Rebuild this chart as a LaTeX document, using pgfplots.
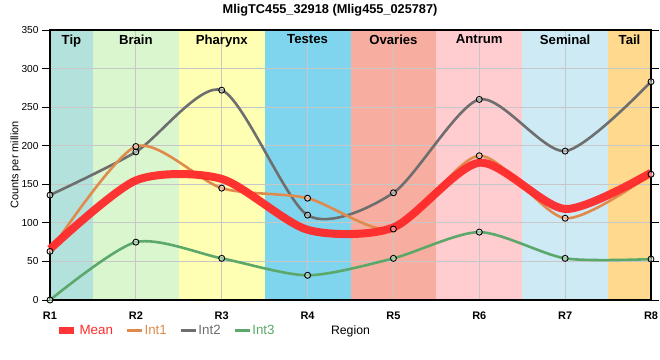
\documentclass[border=0pt]{standalone}
\usepackage{fontspec}
\setmainfont{Liberation Sans}
\usepackage{pgfplots}
\pgfplotsset{compat=1.18}
\definecolor{cTip}{HTML}{B3E2DD}
\definecolor{cBrain}{HTML}{D9F6CF}
\definecolor{cPharynx}{HTML}{FFFFB3}
\definecolor{cTestes}{HTML}{80D5EE}
\definecolor{cOvaries}{HTML}{F7AEA0}
\definecolor{cAntrum}{HTML}{FFCDD0}
\definecolor{cSeminal}{HTML}{CDEAF5}
\definecolor{cTail}{HTML}{FED98E}
\definecolor{cMean}{HTML}{FF2A2A}
\definecolor{cInt1}{HTML}{E08A4B}
\definecolor{cInt2}{HTML}{6E6E6E}
\definecolor{cInt3}{HTML}{5BA86A}
\tikzset{bandlab/.style={font=\bfseries\fontsize{13.2}{15}\selectfont, anchor=north, yshift=-1bp}}
\begin{document}
\begin{tikzpicture}
\begin{axis}[
  set layers,
  at={(0,0)}, anchor=south west,
  scale only axis, width=601bp, height=270bp,
  xmin=0, xmax=7, ymin=0, ymax=350,
  clip=false,
  xtick={0,1,2,3,4,5,6,7},
  xticklabels={R1,R2,R3,R4,R5,R6,R7,R8},
  xticklabel style={font=\bfseries\fontsize{11}{13}\selectfont},
  ytick={0,50,...,350},
  yticklabel style={font=\fontsize{10.2}{12}\selectfont},
  /pgf/number format/assume math mode=true,
  grid=major,
  major grid style={draw=black!22, line width=0.8bp},
  axis line style={line width=2bp, black},
  xtick style={draw=none},
  ytick style={black, line width=0.8bp},
  tick align=outside,
  major tick length=8bp,
  every axis title shift=0pt,
  title={MligTC455\_32918 (Mlig455\_025787)},
  title style={font=\bfseries\fontsize{12.8}{15}\selectfont, at={(axis description cs:0.466,1.074)}, anchor=center, yshift=0pt},
  xlabel={Region},
  xlabel style={font=\fontsize{12.3}{14}\selectfont, at={(axis description cs:0.5,-0.115)}, anchor=center},
  ylabel={Counts per million},
  ylabel style={font=\fontsize{11}{13}\selectfont, at={(axis description cs:-0.0574,0.5)}, anchor=center},
  legend columns=4,
  reverse legend,
  legend style={draw=none, fill=none, inner sep=0pt, outer sep=0pt,
    at={(axis description cs:0.0095,-0.1137)}, anchor=west,
    font=\fontsize{13.4}{15}\selectfont,
    nodes={inner sep=1.5bp},
    /tikz/every even column/.append style={column sep=11bp}},
]
% background bands
\addplot[on layer=axis background, draw=none, fill=cTip, forget plot] coordinates {(0,350)(0.5,350)} \closedcycle;
\addplot[on layer=axis background, draw=none, fill=cBrain, forget plot] coordinates {(0.5,350)(1.5,350)} \closedcycle;
\addplot[on layer=axis background, draw=none, fill=cPharynx, forget plot] coordinates {(1.5,350)(2.5,350)} \closedcycle;
\addplot[on layer=axis background, draw=none, fill=cTestes, forget plot] coordinates {(2.5,350)(3.5,350)} \closedcycle;
\addplot[on layer=axis background, draw=none, fill=cOvaries, forget plot] coordinates {(3.5,350)(4.5,350)} \closedcycle;
\addplot[on layer=axis background, draw=none, fill=cAntrum, forget plot] coordinates {(4.5,350)(5.5,350)} \closedcycle;
\addplot[on layer=axis background, draw=none, fill=cSeminal, forget plot] coordinates {(5.5,350)(6.5,350)} \closedcycle;
\addplot[on layer=axis background, draw=none, fill=cTail, forget plot] coordinates {(6.5,350)(7,350)} \closedcycle;
% band labels
\node[bandlab] at (axis cs:0.25,350) {Tip};
\node[bandlab] at (axis cs:1,350) {Brain};
\node[bandlab] at (axis cs:2,350) {Pharynx};
\node[bandlab] at (axis cs:3,350) {Testes};
\node[bandlab] at (axis cs:4,350) {Ovaries};
\node[bandlab] at (axis cs:5,350) {Antrum};
\node[bandlab] at (axis cs:6,350) {Seminal};
\node[bandlab] at (axis cs:6.75,350) {Tail};
% series
\addplot[cInt3, line width=2.6bp, smooth, tension=0.45, mark=*, mark size=3bp,
  mark options={draw=black, fill=white, fill opacity=0.4, line width=0.9bp},
  legend image code/.code={\path[draw=cInt3, line width=2.6bp] (0bp,0bp) -- (15bp,0bp);}]
  coordinates {(0,0)(1,75)(2,54)(3,32)(4,54)(5,88)(6,54)(7,53)};
\addlegendentry{\textcolor{cInt3}{Int3}}
\addplot[cInt2, line width=2.6bp, smooth, tension=0.45, mark=*, mark size=3bp,
  mark options={draw=black, fill=white, fill opacity=0.4, line width=0.9bp},
  legend image code/.code={\path[draw=cInt2, line width=2.6bp] (0bp,0bp) -- (15bp,0bp);}]
  coordinates {(0,136)(1,192)(2,272)(3,110)(4,139)(5,260)(6,193)(7,283)};
\addlegendentry{\textcolor{cInt2}{Int2}}
\addplot[cInt1, line width=2.6bp, smooth, tension=0.45, mark=*, mark size=3bp,
  mark options={draw=black, fill=white, fill opacity=0.4, line width=0.9bp},
  legend image code/.code={\path[draw=cInt1, line width=2.6bp] (0bp,0bp) -- (15bp,0bp);}]
  coordinates {(0,63)(1,199)(2,145)(3,132)(4,92)(5,187)(6,106)(7,163)};
\addlegendentry{\textcolor{cInt1}{Int1}}
\addplot[cMean, line width=8bp, smooth, tension=0.45, opacity=0.95,
  legend image code/.code={\path[draw=cMean, line width=7.4bp, line cap=butt] (0bp,0bp) -- (15bp,0bp);}]
  coordinates {(0,66)(1,155)(2,157)(3,91)(4,94)(5,178)(6,118)(7,165)};
\addlegendentry{\textcolor{cMean}{Mean}}
\end{axis}
\pgfresetboundingbox
\path (-50bp,-60bp) rectangle (610bp,300bp);
\end{tikzpicture}
\end{document}
